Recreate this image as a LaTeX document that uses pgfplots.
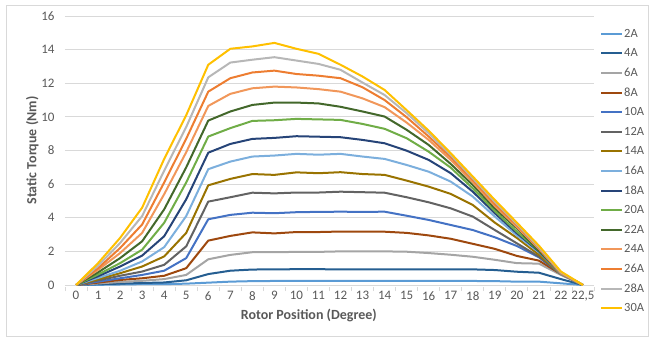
\documentclass[border=0pt]{standalone}
\usepackage{pgfplots}
\pgfplotsset{compat=1.18}
\usepackage{pgfplotstable}
\usepackage{fontspec}
\setmainfont{Carlito}
\definecolor{cA}{HTML}{5B9BD5}
\definecolor{cB}{HTML}{255E91}
\definecolor{cC}{HTML}{A5A5A5}
\definecolor{cD}{HTML}{9E480E}
\definecolor{cE}{HTML}{4472C4}
\definecolor{cF}{HTML}{636363}
\definecolor{cG}{HTML}{997300}
\definecolor{cH}{HTML}{7CAFDD}
\definecolor{cI}{HTML}{264478}
\definecolor{cJ}{HTML}{70AD47}
\definecolor{cK}{HTML}{43682B}
\definecolor{cL}{HTML}{F1975A}
\definecolor{cM}{HTML}{ED7D31}
\definecolor{cN}{HTML}{B7B7B7}
\definecolor{cO}{HTML}{FFC000}
\definecolor{txt}{HTML}{595959}
\definecolor{grd}{HTML}{D9D9D9}
\pgfplotstableread{
x  A2   A4   A6   A8   A10  A12  A14  A16  A18  A20  A22   A24   A26   A28   A30
0  0    0    0    0    0    0    0    0    0    0    0     0     0     0     0
1  0.01 0.05 0.09 0.14 0.20 0.27 0.34 0.42 0.52 0.62 0.75  0.90  1.00  1.15  1.30
2  0.03 0.08 0.18 0.30 0.40 0.55 0.70 0.85 1.10 1.30 1.60  1.90  2.20  2.50  2.80
3  0.05 0.12 0.25 0.40 0.60 0.80 1.10 1.40 1.75 2.10 2.60  3.10  3.60  4.10  4.60
4  0.05 0.15 0.35 0.55 0.85 1.20 1.70 2.25 2.90 3.70 4.50  5.40  6.10  6.80  7.50
5  0.08 0.28 0.60 1.00 1.60 2.30 3.10 4.10 5.10 6.10 7.00  7.90  8.70  9.40  10.10
6  0.14 0.65 1.53 2.64 3.91 4.96 5.93 6.89 7.87 8.83 9.78  10.65 11.50 12.35 13.10
7  0.20 0.85 1.79 2.92 4.17 5.22 6.31 7.34 8.39 9.33 10.32 11.37 12.30 13.23 14.05
8  0.23 0.92 1.95 3.13 4.30 5.49 6.60 7.64 8.69 9.76 10.71 11.70 12.64 13.40 14.19
9  0.24 0.93 1.95 3.07 4.27 5.45 6.55 7.70 8.75 9.80 10.85 11.80 12.75 13.55 14.40
10 0.24 0.94 1.97 3.15 4.33 5.50 6.70 7.80 8.85 9.88 10.85 11.75 12.55 13.35 14.05
11 0.24 0.94 1.97 3.15 4.35 5.50 6.65 7.75 8.82 9.85 10.80 11.65 12.45 13.15 13.75
12 0.24 0.93 2.00 3.18 4.36 5.55 6.71 7.80 8.79 9.82 10.60 11.50 12.30 12.80 13.10
13 0.24 0.93 2.00 3.18 4.35 5.52 6.60 7.64 8.63 9.58 10.32 11.10 11.76 12.04 12.40
14 0.24 0.93 2.00 3.17 4.36 5.49 6.55 7.50 8.43 9.29 10.02 10.58 11.00 11.30 11.60
15 0.24 0.93 1.98 3.10 4.12 5.22 6.21 7.14 7.99 8.73 9.23  9.66  9.98  10.22 10.40
16 0.24 0.93 1.90 2.95 3.87 4.92 5.85 6.74 7.44 7.93 8.33  8.63  8.83  9.03  9.18
17 0.24 0.93 1.80 2.75 3.57 4.56 5.42 6.15 6.65 6.98 7.20  7.44  7.60  7.74  7.84
18 0.24 0.93 1.68 2.45 3.27 4.07 4.76 5.26 5.55 5.75 5.95  6.11  6.25  6.35  6.45
19 0.23 0.89 1.50 2.15 2.84 3.27 3.71 4.07 4.27 4.40 4.56  4.70  4.82  4.95  5.06
20 0.20 0.79 1.30 1.73 2.32 2.48 2.80 2.95 3.08 3.17 3.37  3.45  3.55  3.63  3.71
21 0.20 0.73 1.27 1.45 1.65 1.69 1.80 1.95 2.00 2.05 2.04  2.15  2.20  2.25  2.34
22 0.10 0.35 0.60 0.65 0.65 0.65 0.65 0.65 0.70 0.70 0.70  0.70  0.70  0.75  0.80
23 0    0    0    0    0    0    0    0    0    0    0     0     0     0     0
}\data
\begin{document}
\begin{tikzpicture}
\path[use as bounding box] (0pt,0pt) rectangle (651pt,341pt);
\draw[grd, line width=0.8pt] (6.5pt,5pt) rectangle (648pt,336pt);
\begin{axis}[
  at={(65pt,56pt)}, anchor=south west,
  scale only axis, width=529pt, height=269pt,
  xmin=-0.5, xmax=23.5, ymin=0, ymax=16,
  xtick={0,...,23},
  xticklabels={0,1,2,3,4,5,6,7,8,9,10,11,12,13,14,15,16,17,18,19,20,21,22,{22,5}},
  minor xtick={-0.5,0.5,...,23.5},
  ytick={0,2,...,16},
  ymajorgrids, major grid style={grd, line width=0.8pt},
  separate axis lines,
  axis x line*=bottom, axis y line*=left,
  x axis line style={grd, line width=0.8pt, -},
  y axis line style={draw=none},
  major tick length=0pt,
  minor tick length=4pt,
  minor x tick style={grd, line width=0.8pt, yshift=-2pt},
  tick align=outside,
  /pgf/number format/assume math mode=true,
  ticklabel style={font=\fontsize{13}{15}\selectfont, text=txt},
  xticklabel style={yshift=-3pt},
  yticklabel style={xshift=-7pt},
  xlabel={\textbf{Rotor Position (Degree)}},
  ylabel={\textbf{Static Torque (Nm)}},
  label style={font=\fontsize{14}{16}\selectfont, text=txt},
  xlabel style={at={(axis description cs:0.461,0)}, anchor=north, yshift=-21pt},
  ylabel style={at={(axis description cs:0,0.5)}, anchor=south, yshift=23pt},
  every axis plot/.append style={line width=2pt, line join=round},
  legend style={at={(axis description cs:1.0113,0.958)}, anchor=north west,
    draw=none, fill=none, inner sep=0pt, row sep=0pt,
    font=\fontsize{12.5}{14}\selectfont, text=txt,
    nodes={inner sep=1pt, text height=8.8pt, text depth=8.8pt, anchor=west}},
  legend cell align=left,
  legend image code/.code={\draw[#1, line width=2pt] (0pt,3.5pt) -- (21pt,3.5pt);},
]
\addplot[cA] table[x=x,y=A2]{\data};
\addplot[cB] table[x=x,y=A4]{\data};
\addplot[cC] table[x=x,y=A6]{\data};
\addplot[cD] table[x=x,y=A8]{\data};
\addplot[cE] table[x=x,y=A10]{\data};
\addplot[cF] table[x=x,y=A12]{\data};
\addplot[cG] table[x=x,y=A14]{\data};
\addplot[cH] table[x=x,y=A16]{\data};
\addplot[cI] table[x=x,y=A18]{\data};
\addplot[cJ] table[x=x,y=A20]{\data};
\addplot[cK] table[x=x,y=A22]{\data};
\addplot[cL] table[x=x,y=A24]{\data};
\addplot[cM] table[x=x,y=A26]{\data};
\addplot[cN] table[x=x,y=A28]{\data};
\addplot[cO] table[x=x,y=A30]{\data};
\legend{2A,4A,6A,8A,10A,12A,14A,16A,18A,20A,22A,24A,26A,28A,30A}
\end{axis}
\end{tikzpicture}
\end{document}
